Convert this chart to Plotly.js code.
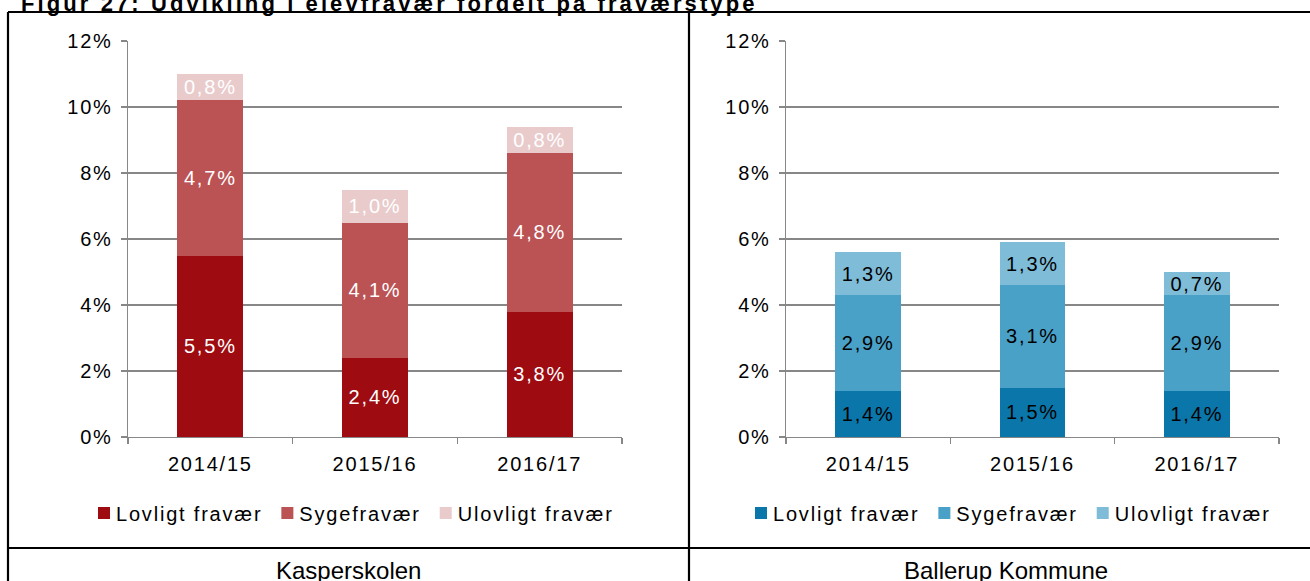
<!DOCTYPE html>
<html>
<head>
<meta charset="utf-8">
<script src="https://cdn.plot.ly/plotly-3.0.1.min.js"></script>
<style>
  html, body { margin: 0; padding: 0; background: #fff; }
  #chart { width: 1310px; height: 581px; }
  svg text { letter-spacing: 1.8px; }
  .gtitle { letter-spacing: 3.1px !important; }
  .annotation-text { letter-spacing: 0px !important; }
</style>
</head>
<body>
<div id="chart"></div>
<script>
// ---- data ----
const categories = ['2014/15', '2015/16', '2016/17'];
const seriesNames = ['Lovligt fravær', 'Sygefravær', 'Ulovligt fravær'];
const kasperLovligt = [5.5, 2.4, 3.8];
const kasperSyge = [4.7, 4.1, 4.8];
const kasperUlovligt = [0.8, 1.0, 0.8];
const ballerupLovligt = [1.4, 1.5, 1.4];
const ballerupSyge = [2.9, 3.1, 2.9];
const ballerupUlovligt = [1.3, 1.3, 0.7];
const yTickVals = [0, 2, 4, 6, 8, 10, 12];
const yTickText = yTickVals.map(v => v + '%');
const panelLabels = ['Kasperskolen', 'Ballerup Kommune'];
const figTitle = 'Figur 27: Udvikling i elevfravær fordelt på fraværstype';

// ---- style ----
const W = 1310, H = 581;
const px = v => v / W;
const py = v => 1 - v / H;
const FONT = 'Liberation Sans, Arial, sans-serif';
const FS = 20;
const redColors = ['#9E0B10', '#BB5254', '#E9CBCC'];
const blueColors = ['#0B76A9', '#4AA1C8', '#7FBCD8'];
const gridCol = '#878787';

function mk(vals, i, colors, xa, ya, leg, txtCol) {
  return {
    type: 'bar', x: categories, y: vals, name: seriesNames[i],
    marker: { color: colors[i], line: { width: 0 } },
    texttemplate: '%{y:.1f}%', textposition: 'inside', insidetextanchor: 'middle',
    textfont: { family: FONT, size: FS, color: txtCol },
    constraintext: 'none', cliponaxis: false,
    xaxis: xa, yaxis: ya, legend: leg, hoverinfo: 'skip', width: 0.4
  };
}

const data = [
  mk(kasperLovligt, 0, redColors, 'x', 'y', 'legend', '#FFFFFF'),
  mk(kasperSyge, 1, redColors, 'x', 'y', 'legend', '#FFFFFF'),
  mk(kasperUlovligt, 2, redColors, 'x', 'y', 'legend', '#FFFFFF'),
  mk(ballerupLovligt, 0, blueColors, 'x2', 'y2', 'legend2', '#000000'),
  mk(ballerupSyge, 1, blueColors, 'x2', 'y2', 'legend2', '#000000'),
  mk(ballerupUlovligt, 2, blueColors, 'x2', 'y2', 'legend2', '#000000')
];

function yAx(anchor) {
  return {
    domain: [py(437), py(41)], range: [0, 12], tickmode: 'array', tickvals: yTickVals, ticktext: yTickText,
    showgrid: true, gridcolor: gridCol, gridwidth: 1.3, zeroline: false,
    showline: true, linecolor: gridCol, linewidth: 1.3,
    ticks: 'outside', ticklen: 6, tickcolor: gridCol, tickwidth: 1.3,
    ticklabelstandoff: 4,
    tickfont: { family: FONT, size: FS, color: '#000' }, anchor: anchor, fixedrange: true
  };
}
function xAx(d, anchor) {
  return {
    domain: d, type: 'category', showgrid: false, zeroline: false,
    showline: true, linecolor: gridCol, linewidth: 1.3,
    ticks: 'outside', tickson: 'boundaries', ticklen: 6, tickcolor: gridCol, tickwidth: 1.3,
    ticklabelstandoff: 9,
    tickfont: { family: FONT, size: FS, color: '#000' }, anchor: anchor, fixedrange: true
  };
}

const lineStyle = { color: '#000', width: 2.2 };
const shapes = [
  { type: 'line', xref: 'paper', yref: 'paper', x0: px(8), x1: 1.01, y0: py(12), y1: py(12), line: lineStyle },
  { type: 'line', xref: 'paper', yref: 'paper', x0: px(8), x1: 1.01, y0: py(548), y1: py(548), line: lineStyle },
  { type: 'line', xref: 'paper', yref: 'paper', x0: px(8), x1: px(8), y0: py(12), y1: -0.01, line: lineStyle },
  { type: 'line', xref: 'paper', yref: 'paper', x0: px(689), x1: px(689), y0: py(12), y1: -0.01, line: lineStyle }
];

const legendBase = {
  orientation: 'h', yanchor: 'middle', xanchor: 'left', y: py(513),
  font: { family: FONT, size: FS, color: '#000' }, bgcolor: 'rgba(0,0,0,0)',
  traceorder: 'normal', itemclick: false, itemdoubleclick: false
};

const layout = {
  width: W, height: H, margin: { l: 0, r: 0, t: 0, b: 0 },
  paper_bgcolor: '#fff', plot_bgcolor: 'rgba(0,0,0,0)',
  barmode: 'stack', separators: ',.', showlegend: true,
  font: { family: FONT, color: '#000' },
  title: {
    text: '<b>' + figTitle + '</b>', font: { family: FONT, size: 22, color: '#000' },
    xref: 'container', yref: 'container', x: px(21), xanchor: 'left', y: py(11), yanchor: 'bottom'
  },
  xaxis: xAx([px(128), px(622)], 'y'),
  yaxis: yAx('x'),
  xaxis2: xAx([px(786), px(1279)], 'y2'),
  yaxis2: yAx('x2'),
  legend: Object.assign({}, legendBase, { x: px(84) }),
  legend2: Object.assign({}, legendBase, { x: px(741) }),
  shapes: shapes,
  annotations: [
    { text: panelLabels[0], xref: 'paper', yref: 'paper', x: px(348), y: py(570), showarrow: false,
      xanchor: 'center', yanchor: 'middle', font: { family: FONT, size: 24, color: '#000' } },
    { text: panelLabels[1], xref: 'paper', yref: 'paper', x: px(1006), y: py(570), showarrow: false,
      xanchor: 'center', yanchor: 'middle', font: { family: FONT, size: 24, color: '#000' } }
  ]
};

// Tighten the gap between each legend swatch and its text (as in the original).
// Idempotent: re-applies only when Plotly has (re)written the attributes.
const SHIFT = 8;
function tightenLegends(gd) {
  gd.querySelectorAll('.infolayer g.traces').forEach(item => {
    if (!item.parentNode) return;
    const siblings = Array.from(item.parentNode.children).filter(n => n.classList && n.classList.contains('traces'));
    const i = Math.max(siblings.indexOf(item), 0);
    const tr = item.getAttribute('transform') || '';
    if (tr && tr !== item.getAttribute('data-set-tr')) {
      const m = tr.match(/translate\(\s*([-\d.e]+)(?:[ ,]+([-\d.e]+))?\s*\)/);
      if (m) {
        const x0 = parseFloat(m[1]), y0 = m[2] !== undefined ? parseFloat(m[2]) : 0;
        const nt = 'translate(' + (x0 - SHIFT * i) + ',' + y0 + ')';
        item.setAttribute('data-set-tr', nt);
        item.setAttribute('transform', nt);
      }
    }
    item.querySelectorAll('text').forEach(txt => {
      const xs = txt.getAttribute('x');
      if (xs === null || xs === '') return;
      if (xs !== txt.getAttribute('data-set-x')) {
        const nx = String(parseFloat(xs) - SHIFT);
        txt.setAttribute('data-set-x', nx);
        txt.setAttribute('x', nx);
      }
    });
  });
}

const gdEl = document.getElementById('chart');
const obs = new MutationObserver(() => { try { tightenLegends(gdEl); } catch (e) {} });
obs.observe(gdEl, { childList: true, subtree: true, attributes: true, attributeFilter: ['transform', 'x'] });

Plotly.newPlot(gdEl, data, layout, { displayModeBar: false, staticPlot: true }).then(gd => {
  tightenLegends(gd);
  requestAnimationFrame(() => tightenLegends(gd));
  setTimeout(() => tightenLegends(gd), 30);
});
</script>
</body>
</html>
